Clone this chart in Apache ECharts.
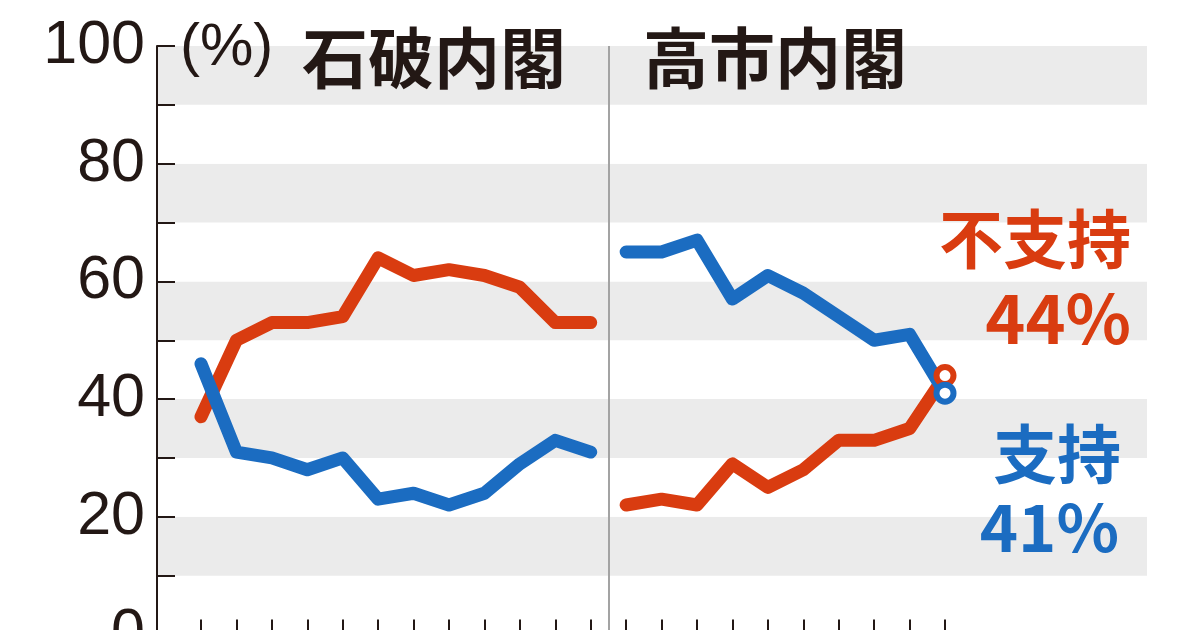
<!DOCTYPE html>
<html><head>
<meta charset="UTF-8">
<title>内閣支持率</title>
<script src="https://cdn.jsdelivr.net/npm/echarts@6/dist/echarts.min.js"></script>
<style>
  html, body { margin: 0; padding: 0; background: #fff; }
  #chart { width: 1200px; height: 630px; }
</style>
</head>
<body>
<div id="chart"></div>
<script>
// 石破内閣 (12回) / 高市内閣 (10回)
var ishibaSupport   = [46, 31, 30, 28, 30, 23, 24, 22, 24, 29, 33, 31];
var ishibaOppose    = [37, 50, 53, 53, 54, 64, 61, 62, 61, 59, 53, 53];
var takaichiSupport = [65, 65, 67, 57, 61, 58, 54, 50, 51, 41];
var takaichiOppose  = [22, 23, 22, 29, 25, 28, 33, 33, 35, 44];
var yLabels = [0, 20, 40, 60, 80, 100];

var RED = '#d93c10';
var BLUE = '#1b6cc1';
var INK = '#231815';

function pts(arr, offset) {
    var out = [];
    for (var i = 0; i < arr.length; i++) out.push([i + offset, arr[i]]);
    return out;
}
var off2 = ishibaSupport.length;
var lastIdx = off2 + takaichiSupport.length - 1;

function lineSeries(name, data, color, z) {
    return {
        name: name, type: 'line', xAxisIndex: 1, yAxisIndex: 1,
        data: data, symbol: 'none', z: z, silent: true,
        lineStyle: { color: color, width: 13, cap: 'round', join: 'round' }
    };
}
function endMark(value, color, z) {
    return {
        type: 'scatter', xAxisIndex: 1, yAxisIndex: 1, z: z, silent: true,
        symbol: 'circle', symbolSize: 17,
        itemStyle: { color: '#fff', borderColor: color, borderWidth: 6, opacity: 1 },
        data: [[lastIdx, value]]
    };
}
function label(text, x, y, color, size, align) {
    return { type: 'text', x: x, y: y, z: 100, silent: true,
             style: { text: text, fill: color, align: align || 'right', verticalAlign: 'middle',
                      font: 'bold ' + size + 'px "Noto Sans CJK JP"' } };
}

var chart = echarts.init(document.getElementById('chart'));
chart.setOption({
    animation: false,
    backgroundColor: '#fff',
    grid: [
        { left: 157, top: 46, width: 990, height: 588.5, outerBoundsMode: 'none' },
        { left: 201, top: 46, width: 744, height: 588.5, outerBoundsMode: 'none' }
    ],
    xAxis: [
        { gridIndex: 0, type: 'value', min: 0, max: 1, show: false },
        { gridIndex: 1, type: 'value', min: 0, max: lastIdx, interval: 1,
          axisLine: { show: false },
          axisTick: { show: true, inside: true, length: 15, lineStyle: { color: INK, width: 2 } },
          axisLabel: { show: false }, splitLine: { show: false } }
    ],
    yAxis: [
        { gridIndex: 0, type: 'value', min: 0, max: 100, interval: 10,
          axisLine: { show: true, lineStyle: { color: INK, width: 2 } },
          axisTick: { show: true, inside: true, length: 18, lineStyle: { color: INK, width: 2 } },
          axisLabel: {
              margin: 12, color: INK, fontSize: 61,
              fontFamily: '"Liberation Sans", sans-serif',
              formatter: function (v) { return yLabels.indexOf(v) >= 0 ? String(v) : ''; }
          },
          splitLine: { show: false },
          splitArea: { show: true, areaStyle: { color: ['#ffffff', '#ebebeb'] } }
        },
        { gridIndex: 1, type: 'value', min: 0, max: 100, show: false }
    ],
    graphic: [
        { type: 'text', x: 180, y: 48, z: 100, silent: true,
          style: { text: '(%)', fill: INK, verticalAlign: 'middle',
                   font: '60px "Liberation Sans", sans-serif' } },
        label('石破内閣', 434, 58, INK, 66, 'center'),
        label('高市内閣', 775, 58, INK, 66, 'center'),
        label('不支持', 1131, 239, RED, 64),
        label('44%', 1131, 318, RED, 68),
        label('支持', 1121, 454, BLUE, 64),
        label('41%', 1119, 527, BLUE, 65)
    ],
    series: [
        {
            type: 'line', xAxisIndex: 1, yAxisIndex: 1, data: [], silent: true,
            markLine: {
                silent: true, symbol: 'none', label: { show: false },
                lineStyle: { color: '#a3a3a3', width: 2, type: 'solid' },
                data: [{ xAxis: off2 - 0.5 }]
            }
        },
        lineSeries('石破不支持', pts(ishibaOppose, 0), RED, 3),
        lineSeries('石破支持', pts(ishibaSupport, 0), BLUE, 4),
        lineSeries('高市不支持', pts(takaichiOppose, off2), RED, 3),
        lineSeries('高市支持', pts(takaichiSupport, off2), BLUE, 4),
        endMark(takaichiOppose[takaichiOppose.length - 1], RED, 5),
        endMark(takaichiSupport[takaichiSupport.length - 1], BLUE, 6)
    ]
});
</script>
</body></html>
